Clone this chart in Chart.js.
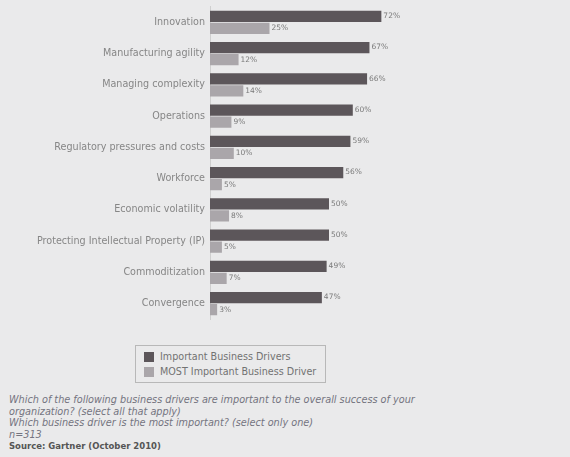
<!DOCTYPE html>
<html>
<head>
<meta charset="utf-8">
<script src="https://cdn.jsdelivr.net/npm/chart.js@4"></script>
<style>
body{margin:0;background:#eaeaeb;font-family:"DejaVu Sans",sans-serif;}
#wrap{position:relative;width:570px;height:457px;overflow:hidden;}
#chartBox{position:absolute;left:0;top:-4px;width:570px;height:334px;}
#legend{position:absolute;left:135px;top:345px;width:189px;height:36px;border:1px solid #b8b8b8;font-size:9.6px;color:#727272;}
#legend div{height:15px;line-height:15px;padding-left:8px;margin-top:3px;white-space:nowrap;}
#legend span{display:inline-block;width:10px;height:10px;vertical-align:middle;margin-right:6px;}
#notes{position:absolute;left:9px;top:394px;font-size:9.7px;color:#74747f;line-height:11.5px;white-space:nowrap;}
#notes i{display:block;}
#notes b{color:#555;font-size:8.5px;}
</style>
</head>
<body>
<div id="wrap">
  <div id="chartBox"><canvas id="chart"></canvas></div>
  <div id="legend">
    <div><span style="background:#5c565a"></span>Important Business Drivers</div>
    <div style="margin-top:0"><span style="background:#aaa6aa"></span>MOST Important Business Driver</div>
  </div>
  <div id="notes">
    <i>Which of the following business drivers are important to the overall success of your</i>
    <i>organization? (select all that apply)</i>
    <i>Which business driver is the most important? (select only one)</i>
    <i>n=313</i>
    <b>Source: Gartner (October 2010)</b>
  </div>
</div>
<script>
// ===== DATA =====
const categories = ["Innovation","Manufacturing agility","Managing complexity","Operations","Regulatory pressures and costs","Workforce","Economic volatility","Protecting Intellectual Property (IP)","Commoditization","Convergence"];
const importantDrivers = [72,67,66,60,59,56,50,50,49,47];
const mostImportant = [25,12,14,9,10,5,8,5,7,3];
const seriesNames = ["Important Business Drivers","MOST Important Business Driver"];

// ===== VALUE LABELS =====
const valueLabels = {
  id:'valueLabels',
  afterDatasetsDraw(chart){
    const ctx = chart.ctx;
    ctx.save();
    ctx.font = '7.5px "DejaVu Sans", sans-serif';
    ctx.fillStyle = '#7a7a7a';
    ctx.textBaseline = 'middle';
    chart.data.datasets.forEach((ds,i)=>{
      chart.getDatasetMeta(i).data.forEach((bar,j)=>{
        ctx.fillText(ds.data[j]+'%', bar.x+2, bar.y);
      });
    });
    ctx.restore();
  }
};

new Chart(document.getElementById('chart'),{
  type:'bar',
  data:{
    labels:categories,
    datasets:[
      {label:seriesNames[0],data:importantDrivers,backgroundColor:'#5c565a',categoryPercentage:0.78,barPercentage:0.92},
      {label:seriesNames[1],data:mostImportant,backgroundColor:'#aaa6aa',categoryPercentage:0.78,barPercentage:0.92}
    ]
  },
  options:{
    indexAxis:'y',
    responsive:true,
    maintainAspectRatio:false,
    animation:false,
    layout:{padding:{top:0,right:122,bottom:5,left:0}},
    plugins:{legend:{display:false},tooltip:{enabled:false}},
    scales:{
      x:{min:0,max:100,display:false},
      y:{
        grid:{display:false,drawTicks:false},
        border:{color:'#cfcfcf'},
        ticks:{color:'#868686',font:{size:9.6,family:'"DejaVu Sans", sans-serif'},padding:5},
        afterFit(scale){scale.width=210;}
      }
    }
  },
  plugins:[valueLabels]
});
</script>
</body>
</html>
